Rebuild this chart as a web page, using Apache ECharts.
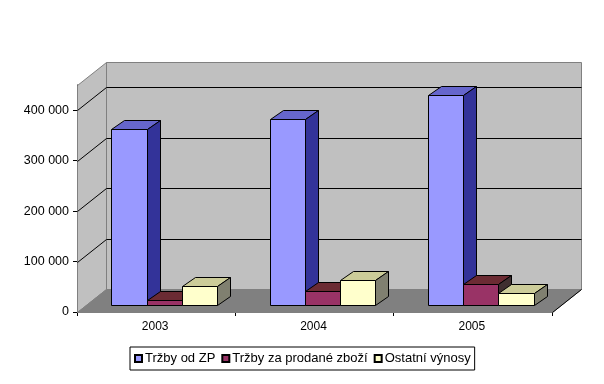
<!DOCTYPE html>
<html><head><meta charset="utf-8">
<script src="https://cdn.jsdelivr.net/npm/echarts@6/dist/echarts.min.js"></script>
<style>html,body{margin:0;background:#fff}#c{width:604px;height:384px}</style>
</head><body><div id="c"></div>
<script>
const categories = ['2003', '2004', '2005'];
const tickValues = [0, 100000, 200000, 300000, 400000];
const axisMax = 450000;
const seriesNames = ['Tržby od ZP', 'Tržby za prodané zboží', 'Ostatní výnosy'];
const trzbyZP = [348000, 369000, 417000];
const trzbyZbozi = [10000, 28000, 41000];
const ostatni = [37000, 49000, 24000];

const DX = 29, DY = -23;           // wall depth
const FX = 8, FY = -7;             // bar front offset
const BX = 13, BY = -9;            // bar depth
const palettes = [
  {front:'#9999ff', top:'#6666cc', side:'#333399'},
  {front:'#993366', top:'#6b2b33', side:'#3f2f30'},
  {front:'#ffffcc', top:'#cccc99', side:'#808070'}
];
const px = v => Math.round(v) + 0.5;
const poly = (points, fill, stroke, lw) => ({type:'polygon', shape:{points}, style:{fill, stroke: stroke || null, lineWidth: lw || 1}, silent:true});

function wallsItem(params, api) {
  const bw = api.size([1, 0])[0];
  const x0 = px(api.coord([0, 0])[0] - bw / 2), x1 = px(api.coord([2, 0])[0] + bw / 2);
  const y0 = px(api.coord([0, 0])[1]), yt = px(api.coord([0, axisMax])[1]);
  return {type:'group', children:[
    poly([[x0+DX,yt+DY],[x1+DX,yt+DY],[x1+DX,y0+DY],[x0+DX,y0+DY]], '#c0c0c0', '#808080'),
    poly([[x0,yt],[x0+DX,yt+DY],[x0+DX,y0+DY],[x0,y0]], '#c0c0c0', '#808080'),
    poly([[x0,y0],[x0+DX,y0+DY],[x1+DX,y0+DY],[x1,y0]], '#808080', '#808080')
  ]};
}
function gridItem(params, api) {
  const bw = api.size([1, 0])[0];
  const x0 = px(api.coord([0, 0])[0] - bw / 2), x1 = px(api.coord([2, 0])[0] + bw / 2);
  const y = px(api.coord([0, api.value(0)])[1]);
  const isZero = api.value(0) === 0;
  return {type:'group', children: isZero ? [
    {type:'polyline', shape:{points:[[x1,y],[x1+DX,y+DY]]}, style:{stroke:'#000',fill:null,lineWidth:1}, silent:true}
  ] : [
    {type:'polyline', shape:{points:[[x0,y],[x0+DX,y+DY],[x1+DX,y+DY]]}, style:{stroke:'#000',fill:null,lineWidth:1}, silent:true}
  ]};
}
function barItem(si) {
  return function (params, api) {
    const cat = api.value(0), val = api.value(1);
    const bw = api.size([1, 0])[0];
    const w = bw / 4.5;
    const c = api.coord([cat, val]), b = api.coord([cat, 0]);
    const l = px(c[0] - 1.5 * w + si * w + FX), r = px(c[0] - 1.5 * w + (si + 1) * w + FX);
    const t = px(c[1] + FY), f = px(b[1] + FY);
    const p = palettes[si];
    return {type:'group', children:[
      poly([[l,t],[l+BX,t+BY],[r+BX,t+BY],[r,t]], p.top, '#000'),
      poly([[r,t],[r+BX,t+BY],[r+BX,f+BY],[r,f]], p.side, '#000'),
      poly([[l,t],[r,t],[r,f],[l,f]], p.front, '#000')
    ]};
  };
}
const values = [trzbyZP, trzbyZbozi, ostatni];
const chart = echarts.init(document.getElementById('c'), null, {renderer:'canvas'});
chart.setOption({
  animation:false,
  backgroundColor:'#fff',
  textStyle:{fontFamily:'Liberation Sans'},
  grid:{left:77, right:52, top:85, bottom:72, containLabel:false},
  legend:{
    data:seriesNames, left:130, top:347, orient:'horizontal',
    itemWidth:7, itemHeight:7, itemGap:6, icon:'rect', padding:[5,4,5,4],
    backgroundColor:'#fff', borderColor:'#000', borderWidth:1, borderRadius:0,
    selectedMode:false,
    textStyle:{fontFamily:'Liberation Sans', fontSize:13, color:'#000', padding:[0,0,0,-2]}
  },
  xAxis:{type:'category', data:categories, boundaryGap:true,
    axisLine:{lineStyle:{color:'#000',width:1}},
    axisTick:{show:true,length:4,alignWithLabel:false,lineStyle:{color:'#000'}},
    axisLabel:{color:'#000',fontSize:12,margin:9,padding:[0,2,0,0]},
    splitLine:{show:false}},
  yAxis:{type:'value', min:0, max:axisMax, interval:100000,
    axisLine:{show:true,lineStyle:{color:'#000',width:1}},
    axisTick:{show:true,length:4,customValues:tickValues,lineStyle:{color:'#000'}},
    axisLabel:{color:'#000',fontSize:12.5,margin:8,customValues:tickValues,
      formatter:v=>String(v).replace(/\B(?=(\d{3})+$)/g,' ')},
    splitLine:{show:false}},
  series:[
    {type:'custom', name:'walls', z:1, clip:false, silent:true, data:[[0]], encode:{x:-1,y:-1}, renderItem:wallsItem},
    {type:'custom', name:'grid', z:2, clip:false, silent:true, data:tickValues.map(v=>[v]), encode:{x:-1,y:-1}, renderItem:gridItem}
  ].concat(seriesNames.map((name,si)=>({
    type:'custom', name, z:3+si, clip:false, silent:true,
    itemStyle:{color:palettes[si].front, borderColor:'#000', borderWidth:1},
    data:categories.map((c,i)=>[i, values[si][i]]),
    encode:{x:0,y:1},
    renderItem:barItem(si)
  })))
});
</script></body></html>
